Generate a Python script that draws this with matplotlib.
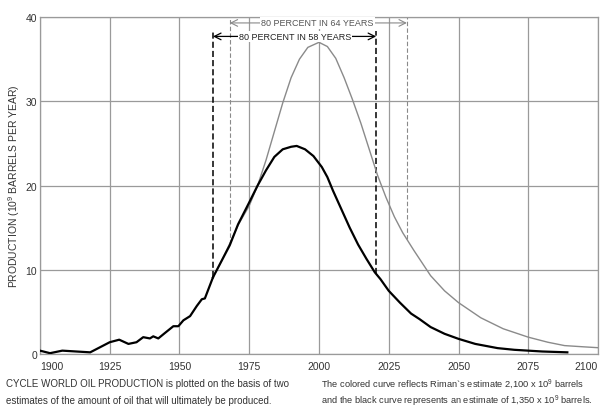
import matplotlib
matplotlib.use("Agg")
import matplotlib.pyplot as plt
import numpy as np

# ---- data ----
hist_years = [1900, 1903.6, 1908, 1913, 1918, 1921.5, 1925, 1928.4, 1931.7, 1934.6, 1937,
              1939.4, 1940.6, 1942.4, 1944.8, 1947.8, 1949.6, 1951.4, 1953.8, 1956.2,
              1958, 1959.1, 1962]
hist_prod = [0.4, 0.1, 0.4, 0.3, 0.2, 0.8, 1.4, 1.7, 1.2, 1.4, 2.0,
             1.85, 2.1, 1.85, 2.5, 3.3, 3.3, 4.0, 4.5, 5.7,
             6.5, 6.6, 9.1]

riman_years = [1962, 1965, 1968, 1971, 1975, 1978, 1981, 1984, 1987, 1990, 1993, 1996,
               2000, 2003, 2006, 2009, 2012, 2015, 2018, 2021, 2024, 2027, 2030, 2034,
               2040, 2045, 2050, 2058, 2066, 2075, 2082, 2088, 2095, 2100]
riman_prod = [9.1, 11.0, 13.1, 15.3, 17.6, 20.0, 23.0, 26.4, 29.8, 32.8, 35.0, 36.4,
              37.0, 36.5, 35.1, 32.8, 30.2, 27.4, 24.3, 21.2, 18.6, 16.3, 14.4, 12.3,
              9.3, 7.5, 6.1, 4.3, 3.0, 2.0, 1.4, 1.0, 0.85, 0.75]

low_years = [1962, 1965, 1968, 1971, 1975, 1978, 1981, 1984, 1987, 1990, 1992, 1995,
             1998, 2001, 2003, 2005, 2008, 2011, 2014, 2017, 2020, 2022, 2025, 2029,
             2033, 2036, 2040, 2045, 2050, 2056, 2064, 2070, 2080, 2089]
low_prod = [9.1, 11.0, 12.9, 15.4, 18.0, 20.0, 21.8, 23.4, 24.3, 24.6, 24.7, 24.3,
            23.5, 22.2, 21.0, 19.4, 17.2, 15.0, 13.0, 11.3, 9.7, 8.9, 7.5, 6.1,
            4.8, 4.15, 3.2, 2.4, 1.8, 1.2, 0.7, 0.5, 0.3, 0.2]

xticks = [1900, 1925, 1950, 1975, 2000, 2025, 2050, 2075, 2100]
yticks = [0, 10, 20, 30, 40]

span58 = (1962, 2020.5)
span64 = (1968, 2031.5)
label58 = "80 PERCENT IN 58 YEARS"
label64 = "80 PERCENT IN 64 YEARS"

ylabel = "PRODUCTION (10$^9$ BARRELS PER YEAR)"
caption_left = ["CYCLE WORLD OIL PRODUCTION is plotted on the basis of two",
                "estimates of the amount of oil that will ultimately be produced."]
caption_right = ["The colored curve reflects Riman`s estimate 2,100 x 10$^9$ barrels",
                 "and the black curve represents an estimate of 1,350 x 10$^9$ barrels."]

# ---- drawing ----
plt.rcParams['font.family'] = ['Liberation Sans', 'DejaVu Sans']
plt.rcParams['mathtext.fontset'] = 'custom'
plt.rcParams['mathtext.rm'] = 'Liberation Sans'

fig = plt.figure(figsize=(6.02, 4.10), dpi=100)
ax = fig.add_axes([0.0664, 0.1341, 0.927, 0.8219])

GRID = '#9a9a9a'
GRAYC = '#8a8a8a'
TXT = '#333333'

ax.set_xlim(1900, 2100)
ax.set_ylim(0, 40)
ax.set_xticks(xticks)
ax.set_yticks(yticks)
ax.grid(True, color=GRID, lw=0.9)
ax.set_axisbelow(True)
for s in ax.spines.values():
    s.set_color(GRID)
    s.set_linewidth(0.9)
ax.tick_params(length=0, labelsize=7.5, colors=TXT)
ax.tick_params(axis='x', pad=5)
ax.tick_params(axis='y', pad=2)
xl = ax.get_xticklabels()
xl[-1].set_horizontalalignment('right')
xl[0].set_horizontalalignment('left')

def interp(xs, ys, x):
    return float(np.interp(x, xs, ys))

# dashed markers
for x in span64:
    y0 = interp(riman_years, riman_prod, x)
    ax.plot([x, x], [y0, 40], color=GRAYC, lw=0.8, ls=(0, (4, 2)), zorder=2)
for x in span58:
    y0 = interp(low_years, low_prod, x)
    ax.plot([x, x], [y0, 38.4], color='black', lw=1.1, ls=(0, (4, 2)), zorder=2)

# curves
ax.plot(riman_years, riman_prod, color=GRAYC, lw=1.0, zorder=3)
ax.plot(low_years, low_prod, color='black', lw=1.6, zorder=4)
ax.plot(hist_years, hist_prod, color='black', lw=1.6, zorder=4)

# span arrows
ax.annotate('', xy=(span64[0], 39.3), xytext=(span64[1], 39.3),
            arrowprops=dict(arrowstyle='<->', color=GRAYC, lw=0.8,
                            shrinkA=0, shrinkB=0, mutation_scale=12))
ax.text(1999.5, 39.3, label64, ha='center', va='center', fontsize=6.5, color='#555555',
        bbox=dict(facecolor='white', edgecolor='none', pad=0.8), zorder=5)
ax.annotate('', xy=(span58[0], 37.7), xytext=(span58[1], 37.7),
            arrowprops=dict(arrowstyle='<->', color='black', lw=0.9,
                            shrinkA=0, shrinkB=0, mutation_scale=12))
ax.text(1991.3, 37.7, label58, ha='center', va='center', fontsize=6.5, color='#222222',
        bbox=dict(facecolor='white', edgecolor='none', pad=0.8), zorder=5)

ax.set_ylabel(ylabel, fontsize=7.5, color=TXT)
ax.yaxis.set_label_coords(-0.033, 0.5)

for i, line in enumerate(caption_left):
    fig.text(6/602, 1 - (384 + 17*i)/410, line, fontsize=7, color=TXT,
             ha='left', va='center')
for i, line in enumerate(caption_right):
    fig.text(321/602, 1 - (384 + 17*i)/410, line, fontsize=6.7, color=TXT,
             ha='left', va='center')

fig.savefig('out.png', dpi=100)
